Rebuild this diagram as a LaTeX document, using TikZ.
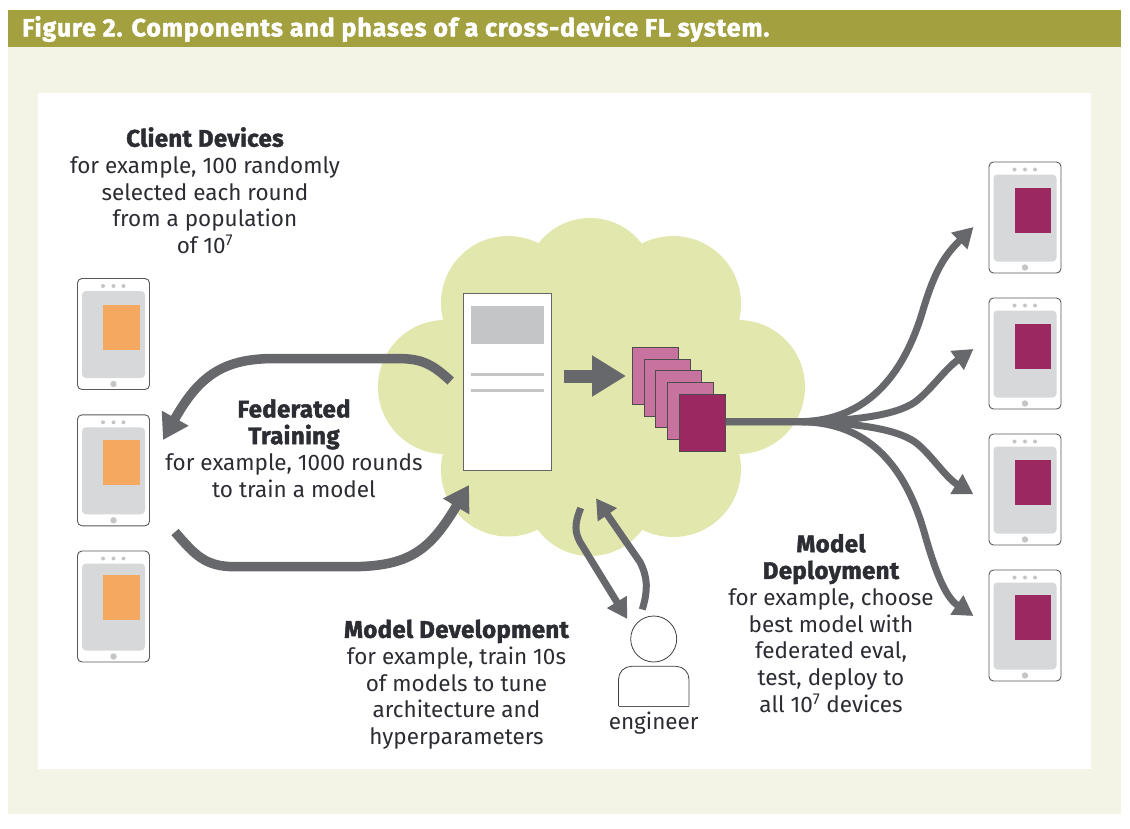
\documentclass[tikz,border=0pt]{standalone}
\usepackage{fontspec}
\setmainfont{Fira Sans}[BoldFeatures={FakeBold=1.8}]
\usetikzlibrary{arrows.meta}
\definecolor{bandolive}{HTML}{A3A040}
\definecolor{paleolive}{HTML}{F3F4E6}
\definecolor{cloudgreen}{HTML}{E2E7AE}
\definecolor{arrowgray}{HTML}{67686B}
\definecolor{screengray}{HTML}{D7D8DA}
\definecolor{dotgray}{HTML}{C4C5C7}
\definecolor{inkdark}{HTML}{2B2D33}
\definecolor{orangeblock}{HTML}{F5A960}
\definecolor{plumblock}{HTML}{9B2860}
\definecolor{pinkblock}{HTML}{C8739F}
\tikzset{
  tablet/.style={draw=black!65,line width=.9pt,fill=white,rounded corners=4.5pt,minimum width=72pt,minimum height=111pt,inner sep=0pt},
  screen/.style={fill=screengray,rounded corners=4pt,minimum width=63pt,minimum height=87pt,inner sep=0pt},
  weights/.style={fill=#1,minimum width=36.5pt,minimum height=45pt,inner sep=0pt},
  modelcard/.style={draw=black!70,line width=.9pt,fill=#1,minimum width=46pt,minimum height=57pt,inner sep=0pt},
  bigflow/.style={draw=arrowgray,line width=9.5pt,-{Triangle[length=25pt,width=29pt]}},
  thinflow/.style={draw=arrowgray,line width=7pt,-{Triangle[length=20pt,width=22pt]}},
  label/.style={text=inkdark,align=center,inner sep=0pt,font=\fontsize{22.5}{26.7}\selectfont}
}
\newcommand{\tabletat}[5]{
\node[tablet] (#1) at (#2,#3+55.5) {};
\node[screen] (#1s) at (#2,#3+56) {};
\node[weights=#4] (#1m) at (#2+8,#3+#5) {};
\fill[dotgray] (#2-10.5,#3+7.5) circle (2) (#2,#3+7.5) circle (2) (#2+10,#3+7.5) circle (2);
\fill[dotgray] (#2,#3+105.5) circle (3.2);
}
\newcommand{\headline}[1]{{\fontsize{24}{26.7}\selectfont\bfseries\addfontfeature{LetterSpace=1.5}#1}}
\begin{document}
\begin{tikzpicture}[x=1pt,y=-1pt]
\useasboundingbox (0,0) rectangle (1130,828);
\fill[paleolive] (8,47) rectangle (1121,814);
\fill[bandolive] (8,10) rectangle (1121,47);
\fill[white] (38,93) rectangle (1091,769);
\node[anchor=west,text=white,inner sep=0pt,font=\fontsize{25}{26}\selectfont\bfseries\addfontfeature{LetterSpace=3.5}] (figtitle) at (22,29) {Figure 2. Components and phases of a cross-device FL system.};

\foreach \cx/\cy/\r in {445/387/67,738/387/67,508/303/67,590/283/65,673/304/68,508/469.5/67,590/491/65,673/469/68}
  \fill[cloudgreen] (\cx,\cy) circle (\r);
\fill[cloudgreen] (445,300) rectangle (738,480);

\tabletat{devA}{113.5}{278.5}{orangeblock}{48.8}
\tabletat{devB}{113.5}{414.8}{orangeblock}{47.8}
\tabletat{devC}{113.5}{551}{orangeblock}{46.5}
\tabletat{outA}{1025}{162}{plumblock}{48.5}
\tabletat{outB}{1025}{298}{plumblock}{48.5}
\tabletat{outC}{1025}{434}{plumblock}{48}
\tabletat{outD}{1025}{570}{plumblock}{47.5}

\node[draw=black!60,line width=.9pt,fill=white,minimum width=88pt,minimum height=177pt,inner sep=0pt] (server) at (507.3,382.3) {};
\fill[dotgray] (471,306) rectangle (544,343.5);
\fill[dotgray] (471,372.5) rectangle (544,375.5);
\fill[dotgray] (471,388.5) rectangle (544,391.5);

\foreach \n in {0,1,2,3}
  \node[modelcard=pinkblock] (card\n) at (655.5+11.7*\n,376+11.7*\n) {};
\node[modelcard=plumblock] (best) at (702.3,422.7) {};

\coordinate (trainOut) at (450.7,381);
\coordinate (trainIn) at (163,440);
\coordinate (backOut) at (175,532);
\coordinate (backIn) at (469,485);
\coordinate (mergeStart) at (564,376);
\coordinate (mergeEnd) at (626,376);
\coordinate (depA) at (973.5,227);
\coordinate (depB) at (973.5,349);
\coordinate (depC) at (973.5,494.4);
\coordinate (depD) at (973.5,616);
\coordinate (devOut) at (580.7,508);
\coordinate (devIn) at (627.3,619);
\coordinate (engOut) at (642.3,609.5);
\coordinate (engIn) at (596,498.3);

\draw[bigflow] (trainOut) .. controls (430,362) and (420,358.5) .. (395,358.5) -- (275,358.5) .. controls (225,358.5) and (200,374) .. (trainIn);
\draw[bigflow] (backOut) .. controls (195,555) and (205,566.7) .. (235,566.7) -- (350,566.7) .. controls (410,566.7) and (430,550) .. (backIn);
\draw[draw=arrowgray,line width=13pt,-{Triangle[length=34pt,width=39pt]}] (mergeStart) -- (mergeEnd);

\draw[thinflow] (best.east |- 0,421.7) -- (800,421.7) .. controls (850,421) and (898,395) .. (923,310) .. controls (935,270) and (945,255) .. (depA);
\draw[thinflow] (best.east |- 0,421.7) -- (800,421.7) .. controls (850,421) and (895,416) .. (915,402) .. controls (930,391) and (945,369) .. (depB);
\draw[thinflow] (best.east |- 0,421.7) -- (800,421.7) .. controls (850,422.5) and (895,428) .. (915,442) .. controls (930,453) and (945,477) .. (depC);
\draw[thinflow] (best.east |- 0,421.7) -- (800,421.7) .. controls (850,422) and (900,445) .. (925,535) .. controls (935,570) and (945,597) .. (depD);

\draw[thinflow] (devOut) .. controls (574,525) and (575,532) .. (580,542) -- (devIn);
\draw[thinflow] (engOut) .. controls (648,590) and (648,578) .. (640,562) -- (engIn);

\node[draw=black!75,line width=.8pt,circle,minimum size=46pt,inner sep=0pt] (enghead) at (653.7,639) {};
\draw[black!75,line width=.8pt,rounded corners=13pt] (618.5,706) -- (618.5,666.3) -- (689,666.3) -- (689,706);
\draw[black!65,line width=.8pt] (618.5,706) -- (689,706);
\node[label] (englabel) at (653.7,723) {engineer};

\node[label] (clientlabel) at (205,190.5) {\headline{Client Devices}\\for example, 100 randomly\\selected each round\\from a population\\of 10\textsuperscript{7}};
\node[label] (fedlabel) at (294,448.5) {\headline{Federated}\\\headline{Training}\\for example, 1000 rounds\\to train a model};
\node[label] (devlabel) at (456.5,684.5) {\headline{Model Development}\\for example, train 10s\\of models to tune\\architecture and\\hyperparameters};
\node[label] (deplabel) at (831,623.3) {\headline{Model}\\\headline{Deployment}\\for example, choose\\best model with\\federated eval,\\test, deploy to\\all 10\textsuperscript{7} devices};
\end{tikzpicture}
\end{document}
